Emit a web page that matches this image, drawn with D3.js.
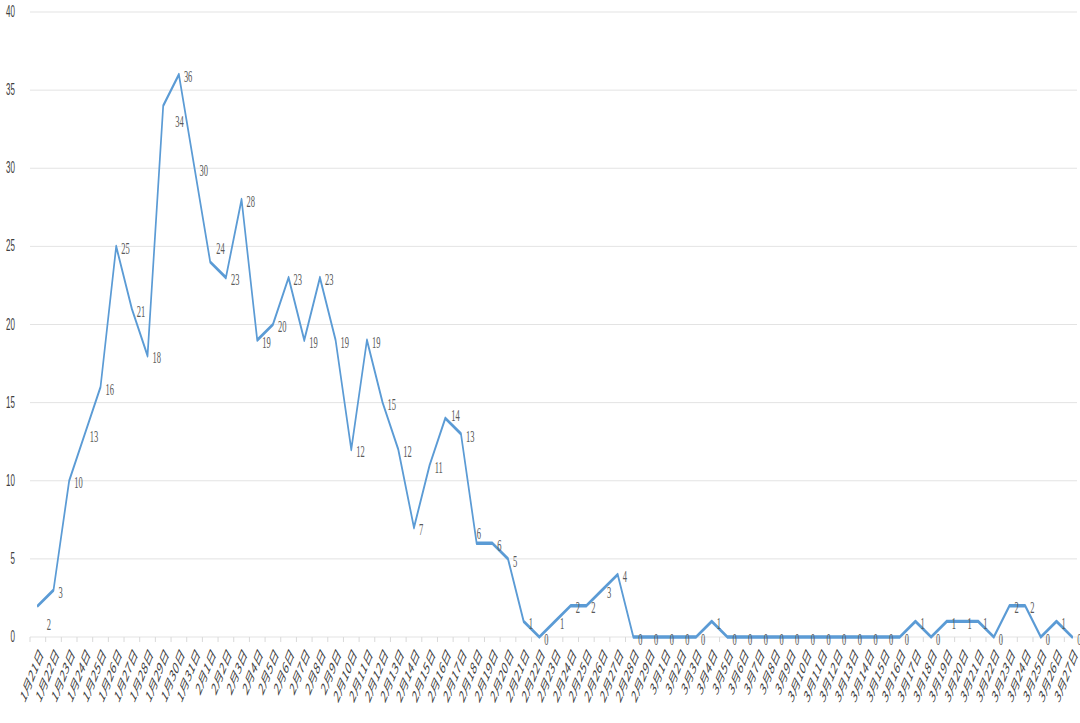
<!DOCTYPE html>
<html><head><meta charset="utf-8">
<script src="https://cdn.jsdelivr.net/npm/d3@7/dist/d3.min.js"></script>
<style>body{margin:0;background:#fff;}svg{display:block;}</style>
</head><body>
<svg id="chart" width="1080" height="723"></svg>
<script>
const dates = [
 "1月21日","1月22日","1月23日","1月24日","1月25日","1月26日","1月27日","1月28日","1月29日","1月30日","1月31日",
 "2月1日","2月2日","2月3日","2月4日","2月5日","2月6日","2月7日","2月8日","2月9日","2月10日",
 "2月11日","2月12日","2月13日","2月14日","2月15日","2月16日","2月17日","2月18日","2月19日","2月20日",
 "2月21日","2月22日","2月23日","2月24日","2月25日","2月26日","2月27日","2月28日","2月29日",
 "3月1日","3月2日","3月3日","3月4日","3月5日","3月6日","3月7日","3月8日","3月9日","3月10日",
 "3月11日","3月12日","3月13日","3月14日","3月15日","3月16日","3月17日","3月18日","3月19日","3月20日",
 "3月21日","3月22日","3月23日","3月24日","3月25日","3月26日","3月27日"
];
const values = [
 2,3,10,13,16,25,21,18,34,36,30,
 24,23,28,19,20,23,19,23,19,12,
 19,15,12,7,11,14,13,6,6,5,
 1,0,1,2,2,3,4,0,0,
 0,0,0,1,0,0,0,0,0,0,
 0,0,0,0,0,0,1,0,1,1,
 1,0,2,2,0,1,0
];
const yTicks = [0,5,10,15,20,25,30,35,40];

// label placement exceptions (layout only)
const labelPlacement = {0:"below", 8:"below", 11:"above", 26:"above", 28:"above"};

(function () {
const SX = 0.5; // whole picture is horizontally compressed
const svg = d3.select("#chart");
const g = svg.append("g").attr("transform", `scale(${SX},1)`);

const pLeft = 60, pRight = 2160, pTop = 12, pBottom = 637;
const x = d3.scaleBand().domain(dates).range([pLeft, pRight]);
const cx = d => x(d) + x.bandwidth() / 2;
const y = d3.scaleLinear().domain([0, 40]).range([pBottom, pTop]);

// gridlines
g.append("g").selectAll("line").data(yTicks).join("line")
  .attr("x1", pLeft).attr("x2", pRight - 6)
  .attr("y1", d => y(d)).attr("y2", d => y(d))
  .attr("stroke", "#d9d9d9").attr("stroke-width", 1);

// category ticks
const bounds = dates.map(d => x(d)).concat([pRight]);
g.append("g").selectAll("line").data(bounds).join("line")
  .attr("x1", d => d).attr("x2", d => d)
  .attr("y1", pBottom).attr("y2", pBottom + 5)
  .attr("stroke", "#d9d9d9").attr("stroke-width", 2);

// y labels
g.append("g").selectAll("text").data(yTicks).join("text")
  .attr("x", 30).attr("y", d => y(d))
  .attr("text-anchor", "end").attr("dominant-baseline", "central")
  .attr("font-family", "Liberation Sans, Arial, sans-serif")
  .attr("font-size", 16).attr("fill", "#404040")
  .text(d => d);

// x labels
g.append("g").selectAll("text").data(dates).join("text")
  .attr("transform", d => `translate(${cx(d) + 6},${pBottom + 13}) rotate(-52)`)
  .attr("text-anchor", "end").attr("dominant-baseline", "central")
  .attr("font-family", "Noto Sans CJK SC, sans-serif")
  .attr("font-size", 17).attr("fill", "#404040")
  .text(d => d);

// line
const line = d3.line().x((v, i) => cx(dates[i])).y(v => y(v));
g.append("path").datum(values)
  .attr("d", line)
  .attr("fill", "none").attr("stroke", "#5b9bd5")
  .attr("stroke-width", 3.4).attr("stroke-linejoin", "round").attr("stroke-linecap", "round");

// data labels
g.append("g").selectAll("text").data(values).join("text")
  .attr("x", (v, i) => {
    const p = labelPlacement[i];
    return cx(dates[i]) + (p === "below" ? (i === 0 ? 18 : 24) : p === "above" ? (i === 28 ? 0 : 12) : 10);
  })
  .attr("y", (v, i) => {
    const p = labelPlacement[i];
    return y(v) + (p === "below" ? (i === 0 ? 19 : 16) : p === "above" ? (i === 11 ? -14 : i === 28 ? -10 : -3) : 2);
  })
  .attr("dominant-baseline", "central")
  .attr("font-family", "Liberation Serif, Times New Roman, serif")
  .attr("font-size", 17).attr("fill", "#595959")
  .text(v => v);
})();
</script>
</body></html>
